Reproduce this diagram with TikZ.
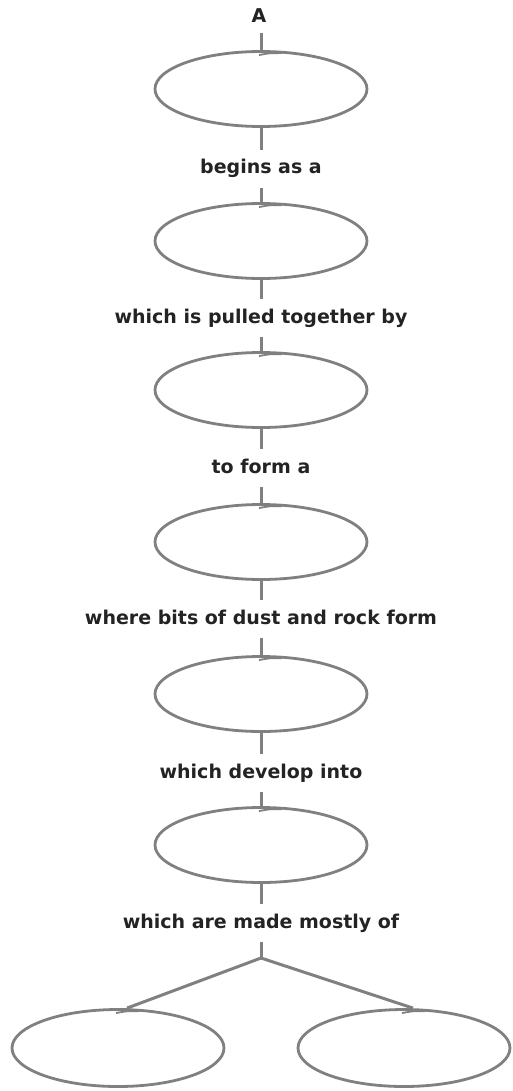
\documentclass[tikz,border=0pt]{standalone}
\usepackage{fontspec}
\setmainfont{DejaVu Sans}
\usetikzlibrary{shapes.geometric,calc}
\definecolor{linegray}{RGB}{128,128,128}
\definecolor{txt}{RGB}{35,35,35}
\begin{document}
\begin{tikzpicture}[x=1pt,y=-1pt,
  oval/.style={ellipse, draw=linegray, line width=2.8pt, minimum width=212pt, minimum height=75pt, inner sep=0pt},
  lbl/.style={text=txt, font=\fontsize{19}{22}\selectfont\bfseries, text height=14pt, text depth=4pt, inner xsep=2pt, inner ysep=9.5pt},
  conn/.style={draw=linegray, line width=3pt},
  tick/.style={draw=linegray, line width=1.8pt}]
\useasboundingbox (0,0) rectangle (513,1091);
\node[lbl, text depth=2pt, inner ysep=8pt] (a) at (259,17) {A};
\node[oval] (e1) at (261,89) {};
\node[lbl] (l1) at (261,169) {begins as a};
\node[oval] (e2) at (261,241) {};
\node[lbl] (l2) at (261,318) {which is pulled together by};
\node[oval] (e3) at (261,390) {};
\node[lbl] (l3) at (261,468) {to form a};
\node[oval] (e4) at (261,542) {};
\node[lbl] (l4) at (261,619) {where bits of dust and rock form};
\node[oval] (e5) at (261,694) {};
\node[lbl] (l5) at (261,773) {which develop into};
\node[oval] (e6) at (261,845) {};
\node[lbl] (l6) at (261,923) {which are made mostly of};
\node[oval, minimum height=77pt] (e7) at (118,1048) {};
\node[oval, minimum height=77pt] (e8) at (404,1048) {};
\coordinate (br) at (261,958);
\draw[conn] (a.south -| e1.north) -- (e1);
\draw[conn] (e1) -- (l1);
\draw[conn] (l1) -- (e2);
\draw[conn] (e2) -- (l2);
\draw[conn] (l2) -- (e3);
\draw[conn] (e3) -- (l3);
\draw[conn] (l3) -- (e4);
\draw[conn] (e4) -- (l4);
\draw[conn] (l4) -- (e5);
\draw[conn] (e5) -- (l5);
\draw[conn] (l5) -- (e6);
\draw[conn] (e6) -- (l6);
\draw[conn] (l6) -- (br);
\draw[conn] (br) -- ($(e7.north)+(9,0)$);
\draw[conn] (br) -- ($(e8.north)+(9,0)$);
\foreach \e in {e1,e2,e3,e4,e5,e6,e7,e8}{
  \draw[tick] ($(\e.north)+(-2,5)$) .. controls ($(\e.north)+(8,3)$) .. ($(\e.north)+(21,3)$);
}
\end{tikzpicture}
\end{document}
